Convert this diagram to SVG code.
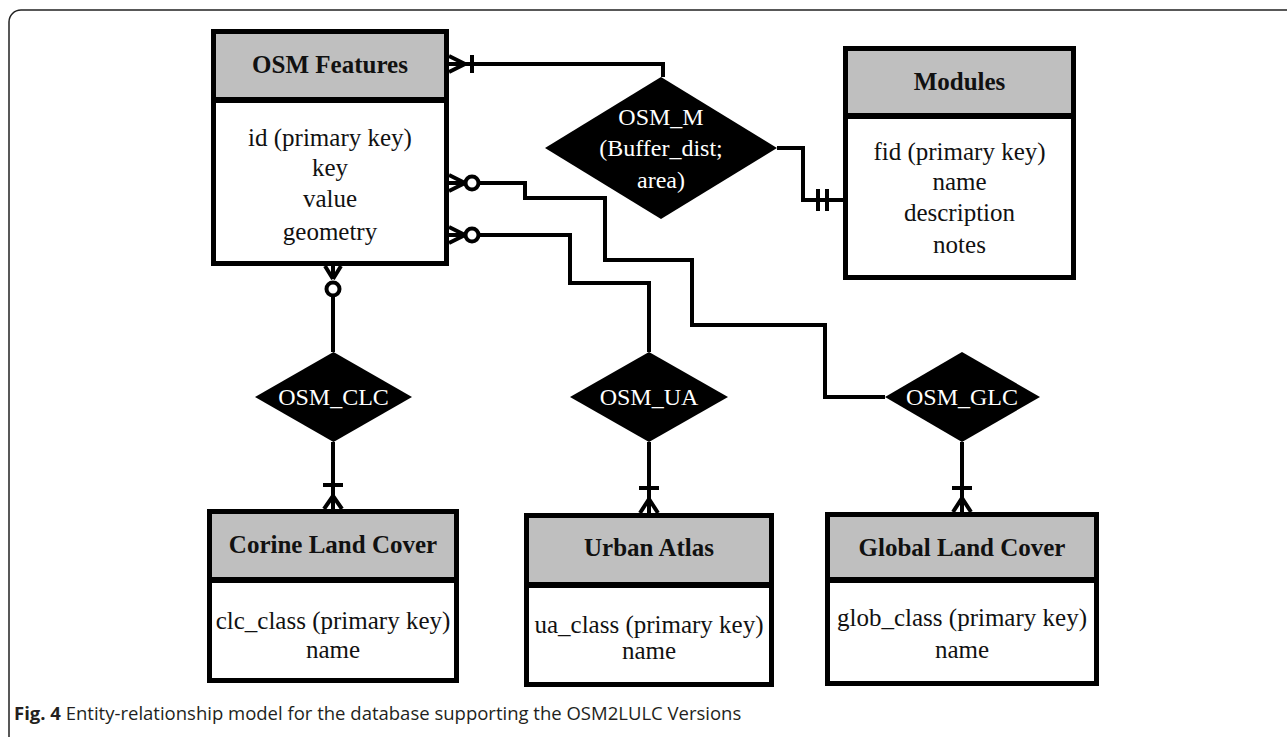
<svg xmlns="http://www.w3.org/2000/svg" width="1287" height="737" viewBox="0 0 1287 737">
<style>
.box{fill:#fff;stroke:#000;stroke-width:5}
.hdr{fill:#bfbfbf}
.div{stroke:#000;stroke-width:6}
.title{font-family:"Liberation Serif",serif;font-weight:bold;font-size:25px;text-anchor:middle;fill:#111}
.attr{font-family:"Liberation Serif",serif;font-size:25px;text-anchor:middle;fill:#111}
.rel{fill:#000}
.reltxt{font-family:"Liberation Serif",serif;font-size:24px;text-anchor:middle;fill:#fff}
.conn{fill:none;stroke:#000;stroke-width:4}
.mark{fill:none;stroke:#000;stroke-width:4}
.circ{fill:#fff;stroke:#000;stroke-width:4}
</style>
<rect x="0" y="0" width="1287" height="737" fill="#fff"/>
<rect x="9" y="10" width="1300" height="740" rx="12" fill="none" stroke="#222" stroke-width="1.5"/>

<g id="connectors">
  <path class="conn" d="M449,64 H663 V77"/>
  <path class="mark" d="M449,56 L465,64 M449,64 H465 M449,72 L465,64"/>
  <path class="mark" d="M472,55 V73"/>

  <path class="conn" d="M777,148 H803 V200 H843"/>
  <path class="mark" d="M818,189 V211 M827,189 V211"/>

  <path class="conn" d="M479,183 H525 V198 H605 V260 H692 V325 H825 V397 H885"/>
  <path class="mark" d="M449,175 L465,183 M449,183 H465 M449,191 L465,183"/>
  <circle class="circ" cx="472" cy="183" r="6.5"/>

  <path class="conn" d="M479,235 H570 V283 H649 V352"/>
  <path class="mark" d="M449,227 L465,235 M449,235 H465 M449,243 L465,235"/>
  <circle class="circ" cx="472" cy="235" r="6.5"/>

  <path class="conn" d="M333,296 V352"/>
  <path class="mark" d="M325,266 L333,279 M333,266 V279 M341,266 L333,279"/>
  <circle class="circ" cx="333" cy="289" r="6.5"/>

  <path class="conn" d="M333,442 V509"/>
  <path class="mark" d="M323,485 H343 M333,496 L324,509 M333,496 V509 M333,496 L342,509"/>

  <path class="conn" d="M649,442 V513"/>
  <path class="mark" d="M639,488 H659 M649,499 L640,513 M649,499 V513 M649,499 L658,513"/>

  <path class="conn" d="M962,442 V512"/>
  <path class="mark" d="M952,488 H972 M962,498 L953,512 M962,498 V512 M962,498 L971,512"/>
</g>

<g id="osm_features">
  <rect class="box" x="213.5" y="31.5" width="233" height="232"/>
  <rect class="hdr" x="216" y="34" width="228" height="66"/>
  <line class="div" x1="213.5" y1="100" x2="446.5" y2="100"/>
  <text class="title" x="330" y="73">OSM Features</text>
  <text class="attr" x="330" y="146">id (primary key)</text>
  <text class="attr" x="330" y="176">key</text>
  <text class="attr" x="330" y="207">value</text>
  <text class="attr" x="330" y="240">geometry</text>
</g>

<g id="modules">
  <rect class="box" x="845.5" y="48.5" width="228" height="229"/>
  <rect class="hdr" x="848" y="51" width="223" height="64"/>
  <line class="div" x1="845.5" y1="116" x2="1073.5" y2="116"/>
  <text class="title" x="959.5" y="90">Modules</text>
  <text class="attr" x="959.5" y="160">fid (primary key)</text>
  <text class="attr" x="959.5" y="190">name</text>
  <text class="attr" x="959.5" y="221">description</text>
  <text class="attr" x="959.5" y="253">notes</text>
</g>

<g id="osm_m">
  <polygon class="rel" points="661,77 777,148 661,219 545,148"/>
  <text class="reltxt" x="661" y="125">OSM_M</text>
  <text class="reltxt" x="661" y="156">(Buffer_dist;</text>
  <text class="reltxt" x="661" y="188">area)</text>
</g>

<g id="osm_clc">
  <polygon class="rel" points="333.5,352 412,397 333.5,442 255,397"/>
  <text class="reltxt" x="333.5" y="405">OSM_CLC</text>
</g>

<g id="osm_ua">
  <polygon class="rel" points="649,352 728,397 649,442 570,397"/>
  <text class="reltxt" x="649" y="405">OSM_UA</text>
</g>

<g id="osm_glc">
  <polygon class="rel" points="962,352 1040,397 962,442 885,397"/>
  <text class="reltxt" x="962" y="405">OSM_GLC</text>
</g>

<g id="corine">
  <rect class="box" x="209.5" y="511.5" width="247" height="169"/>
  <rect class="hdr" x="212" y="514" width="242" height="66"/>
  <line class="div" x1="209.5" y1="580" x2="456.5" y2="580"/>
  <text class="title" x="333" y="553">Corine Land Cover</text>
  <text class="attr" x="333" y="629">clc_class (primary key)</text>
  <text class="attr" x="333" y="658">name</text>
</g>

<g id="urban_atlas">
  <rect class="box" x="526.5" y="515.5" width="245" height="169"/>
  <rect class="hdr" x="529" y="518" width="240" height="67"/>
  <line class="div" x1="526.5" y1="585" x2="771.5" y2="585"/>
  <text class="title" x="649" y="556">Urban Atlas</text>
  <text class="attr" x="649" y="633">ua_class (primary key)</text>
  <text class="attr" x="649" y="659">name</text>
</g>

<g id="global_land_cover">
  <rect class="box" x="827.5" y="514.5" width="269" height="169"/>
  <rect class="hdr" x="830" y="517" width="264" height="63"/>
  <line class="div" x1="827.5" y1="580" x2="1096.5" y2="580"/>
  <text class="title" x="962" y="556">Global Land Cover</text>
  <text class="attr" x="962" y="626">glob_class (primary key)</text>
  <text class="attr" x="962" y="658">name</text>
</g>

<text x="14" y="720" font-family="Open Sans, sans-serif" font-size="18.5" fill="#231f20"><tspan font-weight="bold">Fig. 4</tspan> Entity-relationship model for the database supporting the OSM2LULC Versions</text>
</svg>
